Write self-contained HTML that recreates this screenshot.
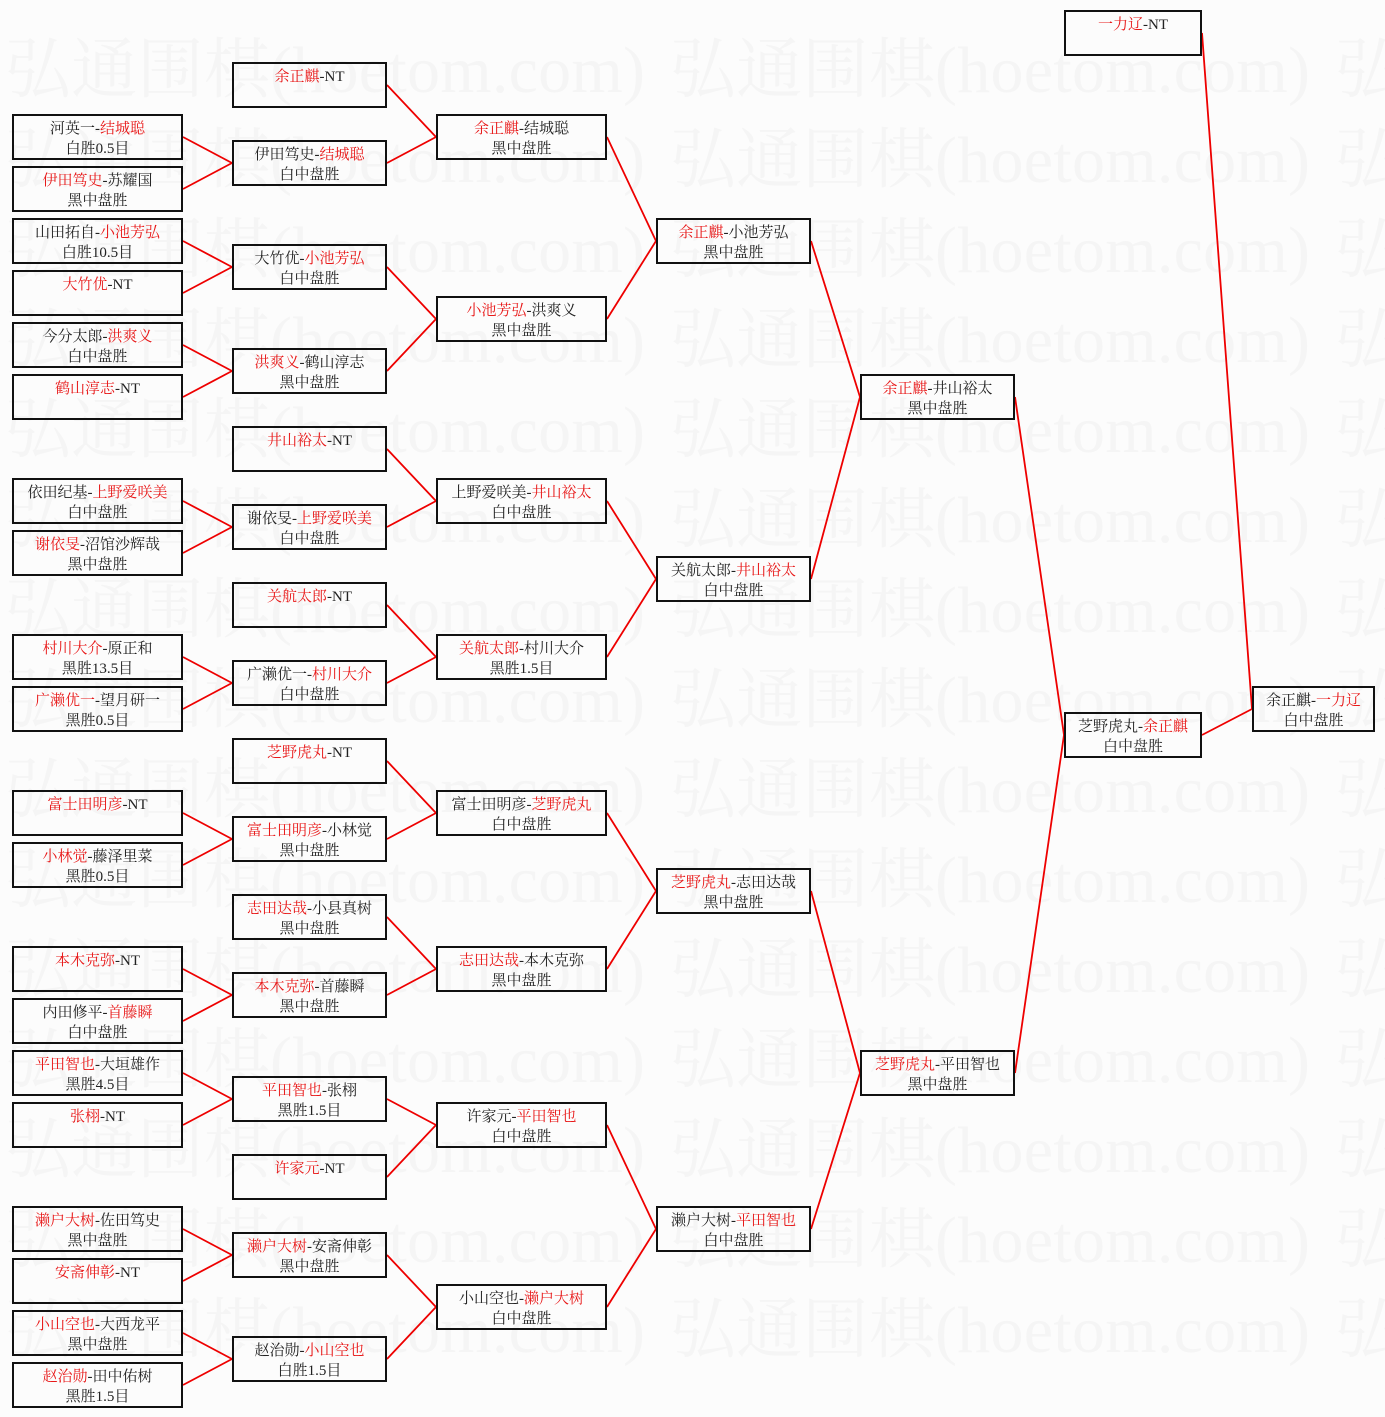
<!DOCTYPE html>
<html><head><meta charset="utf-8"><style>
html,body{margin:0;padding:0;background:#fcfcfc;}
body{width:1385px;height:1417px;position:relative;overflow:hidden;font-family:"Liberation Serif","Noto Serif CJK SC","Noto Sans CJK SC",serif;}
.b{position:absolute;height:46px;border:2px solid #111;box-sizing:border-box;background:transparent;text-align:center;font-size:15px;line-height:20px;padding-top:3px;color:#222;white-space:nowrap;}
.c1{left:12px;width:171px}.c2{left:232px;width:155px}.c3{left:436px;width:171px}
.c4{left:656px;width:155px}.c5{left:860px;width:155px}.c6{left:1064px;width:138px}.c7{left:1252px;width:123px}
i{font-style:normal;color:#e81818}
svg{position:absolute;left:0;top:0}
</style></head><body>
<svg width="1385" height="1417">
<g font-family="Liberation Serif,Noto Serif CJK SC,serif" font-size="66" fill="#f5f5f5">
<text x="5" y="92" textLength="640">弘通围棋(hoetom.com)</text><text x="670" y="92" textLength="640">弘通围棋(hoetom.com)</text><text x="1335" y="92">弘</text>
<text x="5" y="182" textLength="640">弘通围棋(hoetom.com)</text><text x="670" y="182" textLength="640">弘通围棋(hoetom.com)</text><text x="1335" y="182">弘</text>
<text x="5" y="272" textLength="640">弘通围棋(hoetom.com)</text><text x="670" y="272" textLength="640">弘通围棋(hoetom.com)</text><text x="1335" y="272">弘</text>
<text x="5" y="362" textLength="640">弘通围棋(hoetom.com)</text><text x="670" y="362" textLength="640">弘通围棋(hoetom.com)</text><text x="1335" y="362">弘</text>
<text x="5" y="452" textLength="640">弘通围棋(hoetom.com)</text><text x="670" y="452" textLength="640">弘通围棋(hoetom.com)</text><text x="1335" y="452">弘</text>
<text x="5" y="542" textLength="640">弘通围棋(hoetom.com)</text><text x="670" y="542" textLength="640">弘通围棋(hoetom.com)</text><text x="1335" y="542">弘</text>
<text x="5" y="632" textLength="640">弘通围棋(hoetom.com)</text><text x="670" y="632" textLength="640">弘通围棋(hoetom.com)</text><text x="1335" y="632">弘</text>
<text x="5" y="722" textLength="640">弘通围棋(hoetom.com)</text><text x="670" y="722" textLength="640">弘通围棋(hoetom.com)</text><text x="1335" y="722">弘</text>
<text x="5" y="812" textLength="640">弘通围棋(hoetom.com)</text><text x="670" y="812" textLength="640">弘通围棋(hoetom.com)</text><text x="1335" y="812">弘</text>
<text x="5" y="902" textLength="640">弘通围棋(hoetom.com)</text><text x="670" y="902" textLength="640">弘通围棋(hoetom.com)</text><text x="1335" y="902">弘</text>
<text x="5" y="992" textLength="640">弘通围棋(hoetom.com)</text><text x="670" y="992" textLength="640">弘通围棋(hoetom.com)</text><text x="1335" y="992">弘</text>
<text x="5" y="1082" textLength="640">弘通围棋(hoetom.com)</text><text x="670" y="1082" textLength="640">弘通围棋(hoetom.com)</text><text x="1335" y="1082">弘</text>
<text x="5" y="1172" textLength="640">弘通围棋(hoetom.com)</text><text x="670" y="1172" textLength="640">弘通围棋(hoetom.com)</text><text x="1335" y="1172">弘</text>
<text x="5" y="1262" textLength="640">弘通围棋(hoetom.com)</text><text x="670" y="1262" textLength="640">弘通围棋(hoetom.com)</text><text x="1335" y="1262">弘</text>
<text x="5" y="1352" textLength="640">弘通围棋(hoetom.com)</text><text x="670" y="1352" textLength="640">弘通围棋(hoetom.com)</text><text x="1335" y="1352">弘</text>
</g>
<g stroke="#e00" stroke-width="1.8" fill="none">
<path d="M183 137L232 163M183 189L232 163"/>
<path d="M183 241L232 267M183 293L232 267"/>
<path d="M183 345L232 371M183 397L232 371"/>
<path d="M183 501L232 527M183 553L232 527"/>
<path d="M183 657L232 683M183 709L232 683"/>
<path d="M183 813L232 839M183 865L232 839"/>
<path d="M183 969L232 995M183 1021L232 995"/>
<path d="M183 1073L232 1099M183 1125L232 1099"/>
<path d="M183 1229L232 1255M183 1281L232 1255"/>
<path d="M183 1333L232 1359M183 1385L232 1359"/>
<path d="M387 85L436 137M387 163L436 137"/>
<path d="M387 267L436 319M387 371L436 319"/>
<path d="M387 449L436 501M387 527L436 501"/>
<path d="M387 605L436 657M387 683L436 657"/>
<path d="M387 761L436 813M387 839L436 813"/>
<path d="M387 917L436 969M387 995L436 969"/>
<path d="M387 1099L436 1125M387 1177L436 1125"/>
<path d="M387 1255L436 1307M387 1359L436 1307"/>
<path d="M607 137L656 241M607 319L656 241"/>
<path d="M607 501L656 579M607 657L656 579"/>
<path d="M607 813L656 891M607 969L656 891"/>
<path d="M607 1125L656 1229M607 1307L656 1229"/>
<path d="M811 241L860 397M811 579L860 397"/>
<path d="M811 891L860 1073M811 1229L860 1073"/>
<path d="M1015 397L1064 735M1015 1073L1064 735"/>
<path d="M1202 33L1252 709M1202 735L1252 709"/>
</g>
</svg>

<div class="b c1" style="top:114px">河英一-<i>结城聪</i><br>白胜0.5目</div>
<div class="b c1" style="top:166px"><i>伊田笃史</i>-苏耀国<br>黑中盘胜</div>
<div class="b c1" style="top:218px">山田拓自-<i>小池芳弘</i><br>白胜10.5目</div>
<div class="b c1" style="top:270px"><i>大竹优</i>-NT</div>
<div class="b c1" style="top:322px">今分太郎-<i>洪爽义</i><br>白中盘胜</div>
<div class="b c1" style="top:374px"><i>鹤山淳志</i>-NT</div>
<div class="b c1" style="top:478px">依田纪基-<i>上野爱咲美</i><br>白中盘胜</div>
<div class="b c1" style="top:530px"><i>谢依旻</i>-沼馆沙辉哉<br>黑中盘胜</div>
<div class="b c1" style="top:634px"><i>村川大介</i>-原正和<br>黑胜13.5目</div>
<div class="b c1" style="top:686px"><i>广濑优一</i>-望月研一<br>黑胜0.5目</div>
<div class="b c1" style="top:790px"><i>富士田明彦</i>-NT</div>
<div class="b c1" style="top:842px"><i>小林觉</i>-藤泽里菜<br>黑胜0.5目</div>
<div class="b c1" style="top:946px"><i>本木克弥</i>-NT</div>
<div class="b c1" style="top:998px">内田修平-<i>首藤瞬</i><br>白中盘胜</div>
<div class="b c1" style="top:1050px"><i>平田智也</i>-大垣雄作<br>黑胜4.5目</div>
<div class="b c1" style="top:1102px"><i>张栩</i>-NT</div>
<div class="b c1" style="top:1206px"><i>濑户大树</i>-佐田笃史<br>黑中盘胜</div>
<div class="b c1" style="top:1258px"><i>安斋伸彰</i>-NT</div>
<div class="b c1" style="top:1310px"><i>小山空也</i>-大西龙平<br>黑中盘胜</div>
<div class="b c1" style="top:1362px"><i>赵治勋</i>-田中佑树<br>黑胜1.5目</div>

<div class="b c2" style="top:62px"><i>余正麒</i>-NT</div>
<div class="b c2" style="top:140px">伊田笃史-<i>结城聪</i><br>白中盘胜</div>
<div class="b c2" style="top:244px">大竹优-<i>小池芳弘</i><br>白中盘胜</div>
<div class="b c2" style="top:348px"><i>洪爽义</i>-鹤山淳志<br>黑中盘胜</div>
<div class="b c2" style="top:426px"><i>井山裕太</i>-NT</div>
<div class="b c2" style="top:504px">谢依旻-<i>上野爱咲美</i><br>白中盘胜</div>
<div class="b c2" style="top:582px"><i>关航太郎</i>-NT</div>
<div class="b c2" style="top:660px">广濑优一-<i>村川大介</i><br>白中盘胜</div>
<div class="b c2" style="top:738px"><i>芝野虎丸</i>-NT</div>
<div class="b c2" style="top:816px"><i>富士田明彦</i>-小林觉<br>黑中盘胜</div>
<div class="b c2" style="top:894px"><i>志田达哉</i>-小县真树<br>黑中盘胜</div>
<div class="b c2" style="top:972px"><i>本木克弥</i>-首藤瞬<br>黑中盘胜</div>
<div class="b c2" style="top:1076px"><i>平田智也</i>-张栩<br>黑胜1.5目</div>
<div class="b c2" style="top:1154px"><i>许家元</i>-NT</div>
<div class="b c2" style="top:1232px"><i>濑户大树</i>-安斋伸彰<br>黑中盘胜</div>
<div class="b c2" style="top:1336px">赵治勋-<i>小山空也</i><br>白胜1.5目</div>

<div class="b c3" style="top:114px"><i>余正麒</i>-结城聪<br>黑中盘胜</div>
<div class="b c3" style="top:296px"><i>小池芳弘</i>-洪爽义<br>黑中盘胜</div>
<div class="b c3" style="top:478px">上野爱咲美-<i>井山裕太</i><br>白中盘胜</div>
<div class="b c3" style="top:634px"><i>关航太郎</i>-村川大介<br>黑胜1.5目</div>
<div class="b c3" style="top:790px">富士田明彦-<i>芝野虎丸</i><br>白中盘胜</div>
<div class="b c3" style="top:946px"><i>志田达哉</i>-本木克弥<br>黑中盘胜</div>
<div class="b c3" style="top:1102px">许家元-<i>平田智也</i><br>白中盘胜</div>
<div class="b c3" style="top:1284px">小山空也-<i>濑户大树</i><br>白中盘胜</div>

<div class="b c4" style="top:218px"><i>余正麒</i>-小池芳弘<br>黑中盘胜</div>
<div class="b c4" style="top:556px">关航太郎-<i>井山裕太</i><br>白中盘胜</div>
<div class="b c4" style="top:868px"><i>芝野虎丸</i>-志田达哉<br>黑中盘胜</div>
<div class="b c4" style="top:1206px">濑户大树-<i>平田智也</i><br>白中盘胜</div>

<div class="b c5" style="top:374px"><i>余正麒</i>-井山裕太<br>黑中盘胜</div>
<div class="b c5" style="top:1050px"><i>芝野虎丸</i>-平田智也<br>黑中盘胜</div>

<div class="b c6" style="top:10px"><i>一力辽</i>-NT</div>
<div class="b c6" style="top:712px">芝野虎丸-<i>余正麒</i><br>白中盘胜</div>

<div class="b c7" style="top:686px">余正麒-<i>一力辽</i><br>白中盘胜</div>
</body></html>
